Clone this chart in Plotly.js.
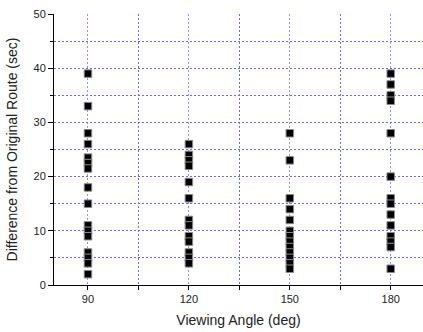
<!DOCTYPE html>
<html>
<head>
<meta charset="utf-8">
<script src="https://cdn.plot.ly/plotly-3.0.1.min.js"></script>
<style>html,body{margin:0;padding:0;background:#fff;}#chart{width:423px;height:332px;}</style>
</head>
<body>
<div id="chart"></div>
<script>
const angles = [90, 120, 150, 180];
const diff90  = [39, 33, 28, 26, 23.5, 22.5, 21.5, 18, 15, 11, 10, 9, 6, 5, 4, 2];
const diff120 = [26, 24, 23, 22, 19, 16, 12, 11, 9, 8, 6, 5, 4];
const diff150 = [28, 23, 16, 14, 12, 10, 9, 8, 7, 6, 5, 4, 3];
const diff180 = [39, 37, 35, 34, 28, 20, 16, 15, 13, 11, 9, 8, 7, 3];
const xTickVals = [90, 120, 150, 180];
const xTickText = ['90', '120', '150', '180'];
const yTickVals = [0, 10, 20, 30, 40, 50];

const groups = [diff90, diff120, diff150, diff180];
const xs = [], ys = [];
groups.forEach((g, i) => g.forEach(v => { xs.push(angles[i]); ys.push(v); }));

const trace = {
  x: xs, y: ys, type: 'scatter', mode: 'markers',
  marker: {symbol: 'square', size: 7.5, color: '#000', line: {color: '#8a8a8a', width: 1}},
  showlegend: false, hoverinfo: 'skip'
};

const gridBlue = '#6a6aff';
const layout = {
  width: 423, height: 332,
  margin: {l: 54, r: 0, t: 14, b: 47},
  paper_bgcolor: '#fff', plot_bgcolor: '#fff',
  font: {family: 'Liberation Sans, Arial, sans-serif', color: '#222', size: 11},
  xaxis: {
    range: [79.9, 189.6],
    tickvals: xTickVals, ticktext: xTickText,
    ticks: 'outside', ticklen: 4, tickcolor: '#000', tickwidth: 1,
    showline: true, linecolor: '#000', linewidth: 1,
    showgrid: true, gridcolor: '#8f8fff', griddash: '2px,2px', gridwidth: 1,
    zeroline: false,
    minor: {dtick: 30, tick0: 105, ticks: 'outside', ticklen: 4, tickcolor: '#000',
            showgrid: true, gridcolor: gridBlue, griddash: '2px,2px', gridwidth: 1},
    title: {text: 'Viewing Angle (deg)', font: {size: 14, color: '#222'}, standoff: 10},
    tickfont: {size: 11, color: '#222'}
  },
  yaxis: {
    range: [0, 50],
    tickvals: yTickVals,
    ticks: 'outside', ticklen: 5, tickcolor: '#000', tickwidth: 1,
    showline: true, linecolor: '#000', linewidth: 1,
    showgrid: true, gridcolor: gridBlue, griddash: '2px,2px', gridwidth: 1,
    zeroline: false,
    minor: {dtick: 10, tick0: 5, ticks: 'outside', ticklen: 3, tickcolor: '#000',
            showgrid: true, gridcolor: gridBlue, griddash: '2px,2px', gridwidth: 1},
    title: {text: 'Difference from Original Route (sec)', font: {size: 14, color: '#222'}, standoff: 12},
    tickfont: {size: 11, color: '#222'}
  }
};

Plotly.newPlot('chart', [trace], layout, {displayModeBar: false, staticPlot: true});
</script>
</body>
</html>
